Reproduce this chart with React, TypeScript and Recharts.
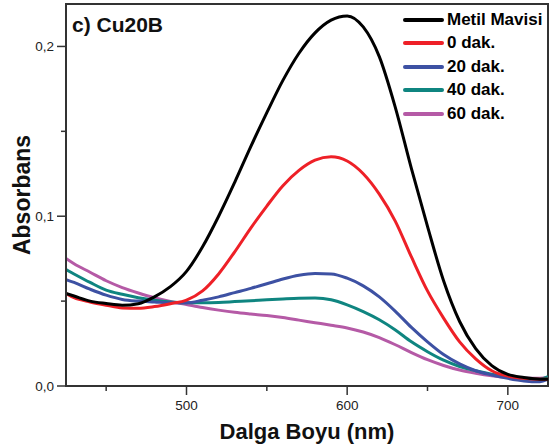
import React from "react";
import {
  LineChart,
  Line,
  XAxis,
  YAxis,
  Legend,
  ReferenceArea,
} from "recharts";

const FONT = "Arial, 'Liberation Sans', Helvetica, sans-serif";

// wavelength (nm)
const wavelengths = [
  425, 430, 440, 450, 460, 470, 480, 490, 500, 510, 520, 530, 540, 550, 560,
  570, 580, 590, 600, 610, 620, 630, 640, 650, 660, 670, 680, 690, 700, 710,
  720, 725,
];

const metilMavisi = [
  0.0545, 0.053, 0.05, 0.0486, 0.0476, 0.0485, 0.0525, 0.0585, 0.0675, 0.082,
  0.1, 0.12, 0.141, 0.161, 0.18, 0.196, 0.208, 0.2155, 0.218, 0.2115, 0.194,
  0.164, 0.128, 0.094, 0.062, 0.038, 0.022, 0.012, 0.0068, 0.005, 0.004, 0.004,
];

const dak0 = [
  0.0545, 0.052, 0.0495, 0.0476, 0.046, 0.0458, 0.0468, 0.0485, 0.0506, 0.056,
  0.066, 0.079, 0.093, 0.106, 0.118, 0.127, 0.133, 0.135, 0.1325, 0.125, 0.113,
  0.097, 0.076, 0.056, 0.04, 0.026, 0.016, 0.009, 0.0058, 0.0045, 0.004,
  0.004,
];

const dak20 = [
  0.0627, 0.061, 0.057, 0.0535, 0.051, 0.05, 0.0495, 0.049, 0.049, 0.0505,
  0.0525, 0.055, 0.0575, 0.0602, 0.063, 0.0652, 0.0662, 0.066, 0.0635, 0.059,
  0.0525, 0.044, 0.0345, 0.026, 0.0185, 0.013, 0.009, 0.0065, 0.0045, 0.003,
  0.0025, 0.004,
];

const dak40 = [
  0.0686, 0.066, 0.061, 0.0565, 0.054, 0.052, 0.0505, 0.0495, 0.049, 0.049,
  0.0492, 0.0497, 0.0502, 0.0508, 0.0513, 0.0517, 0.0518, 0.0508, 0.0478,
  0.0438, 0.039, 0.033, 0.026, 0.0202, 0.0152, 0.0115, 0.009, 0.007, 0.0055,
  0.0045, 0.004, 0.0055,
];

const dak60 = [
  0.0751, 0.072, 0.067, 0.062, 0.058, 0.0548, 0.052, 0.0498, 0.048, 0.0462,
  0.0447, 0.0434, 0.0424, 0.0415, 0.0403, 0.0388, 0.0373, 0.0358, 0.0342,
  0.0318, 0.0285, 0.0243, 0.0197, 0.0155, 0.0121, 0.0094, 0.0075, 0.006, 0.005,
  0.0045, 0.0045, 0.005,
];

const xTicks = [450, 500, 550, 600, 650, 700];
const xLabelled = [500, 600, 700];
const yTicks = [0, 0.05, 0.1, 0.15, 0.2];
const yLabelled = [0, 0.1, 0.2];

const series = [
  { key: "mm", name: "Metil Mavisi", color: "#000000" },
  { key: "d0", name: "0 dak.", color: "#ee2027" },
  { key: "d20", name: "20 dak.", color: "#3d51a3" },
  { key: "d40", name: "40 dak.", color: "#0f8580" },
  { key: "d60", name: "60 dak.", color: "#b55aa6" },
];

const data = wavelengths.map((w, i) => ({
  w,
  mm: metilMavisi[i],
  d0: dak0[i],
  d20: dak20[i],
  d40: dak40[i],
  d60: dak60[i],
}));

const AXIS = "#333333";

function XTick(props: any) {
  const { x, y, payload } = props;
  const major = xLabelled.includes(payload.value);
  return (
    <g>
      <line x1={x} x2={x} y1={y} y2={y + (major ? 9 : 5)} stroke={AXIS} strokeWidth={1.5} />
      {major && (
        <text x={x} y={y + 24} textAnchor="middle" fontSize={13.5} fill="#222" fontFamily={FONT}>
          {payload.value}
        </text>
      )}
    </g>
  );
}

function YTick(props: any) {
  const { x, y, payload } = props;
  const major = yLabelled.includes(payload.value);
  return (
    <g>
      <line x1={x - (major ? 9 : 5)} x2={x} y1={y} y2={y} stroke={AXIS} strokeWidth={1.5} />
      {major && (
        <text x={x - 12} y={y} dy="0.35em" textAnchor="end" fontSize={13.5} fill="#222" fontFamily={FONT}>
          {payload.value.toFixed(1).replace(".", ",")}
        </text>
      )}
    </g>
  );
}

function LegendBox() {
  return (
    <div style={{ fontFamily: FONT, fontWeight: 700, fontSize: 17, color: "#000" }}>
      {series.map((s) => (
        <div key={s.key} style={{ display: "flex", alignItems: "center", height: 23.5 }}>
          <span
            style={{
              display: "inline-block",
              width: 41,
              height: 4,
              borderRadius: 2,
              background: s.color,
              marginRight: 3,
            }}
          />
          <span>{s.name}</span>
        </div>
      ))}
    </div>
  );
}

export default function App() {
  return (
    <div style={{ position: "absolute", left: 0, top: 0, width: 552, height: 446, background: "#fff" }}>
      <LineChart
        width={552}
        height={446}
        data={data}
        margin={{ top: 4, right: 4, left: 0, bottom: 0 }}
      >
        <XAxis
          dataKey="w"
          type="number"
          domain={[425, 725]}
          ticks={xTicks}
          allowDataOverflow
          height={60}
          tickSize={0}
          tickMargin={0}
          tickLine={false}
          tick={<XTick />}
          axisLine={{ stroke: AXIS, strokeWidth: 2 }}
          label={{
            value: "Dalga Boyu (nm)",
            position: "insideBottom",
            offset: 7,
            style: { fontFamily: FONT, fontWeight: 700, fontSize: 22, fill: "#111" },
          }}
        />
        <YAxis
          type="number"
          domain={[0, 0.225]}
          ticks={yTicks}
          allowDataOverflow
          width={66}
          tickSize={0}
          tickMargin={0}
          tickLine={false}
          tick={<YTick />}
          axisLine={{ stroke: AXIS, strokeWidth: 2 }}
          label={{
            value: "Absorbans",
            angle: -90,
            position: "insideLeft",
            offset: 22,
            style: { fontFamily: FONT, fontWeight: 700, fontSize: 23, fill: "#111", textAnchor: "middle" },
          }}
        />
        <ReferenceArea
          x1={425}
          x2={725}
          y1={0}
          y2={0.225}
          fill="none"
          fillOpacity={0}
          stroke={AXIS}
          strokeWidth={2}
          strokeOpacity={1}
        />
        {series
          .slice()
          .reverse()
          .map((s) => (
            <Line
              key={s.key}
              dataKey={s.key}
              name={s.name}
              type="monotone"
              stroke={s.color}
              strokeWidth={3}
              dot={false}
              isAnimationActive={false}
            />
          ))}
        <Legend
          layout="horizontal"
          verticalAlign="middle"
          align="center"
          content={<LegendBox />}
          wrapperStyle={{ left: 403, top: 8, width: 150 }}
        />
        <text x={72} y={32} fontFamily={FONT} fontWeight={700} fontSize={21} fill="#111">
          c) Cu20B
        </text>
      </LineChart>
    </div>
  );
}
